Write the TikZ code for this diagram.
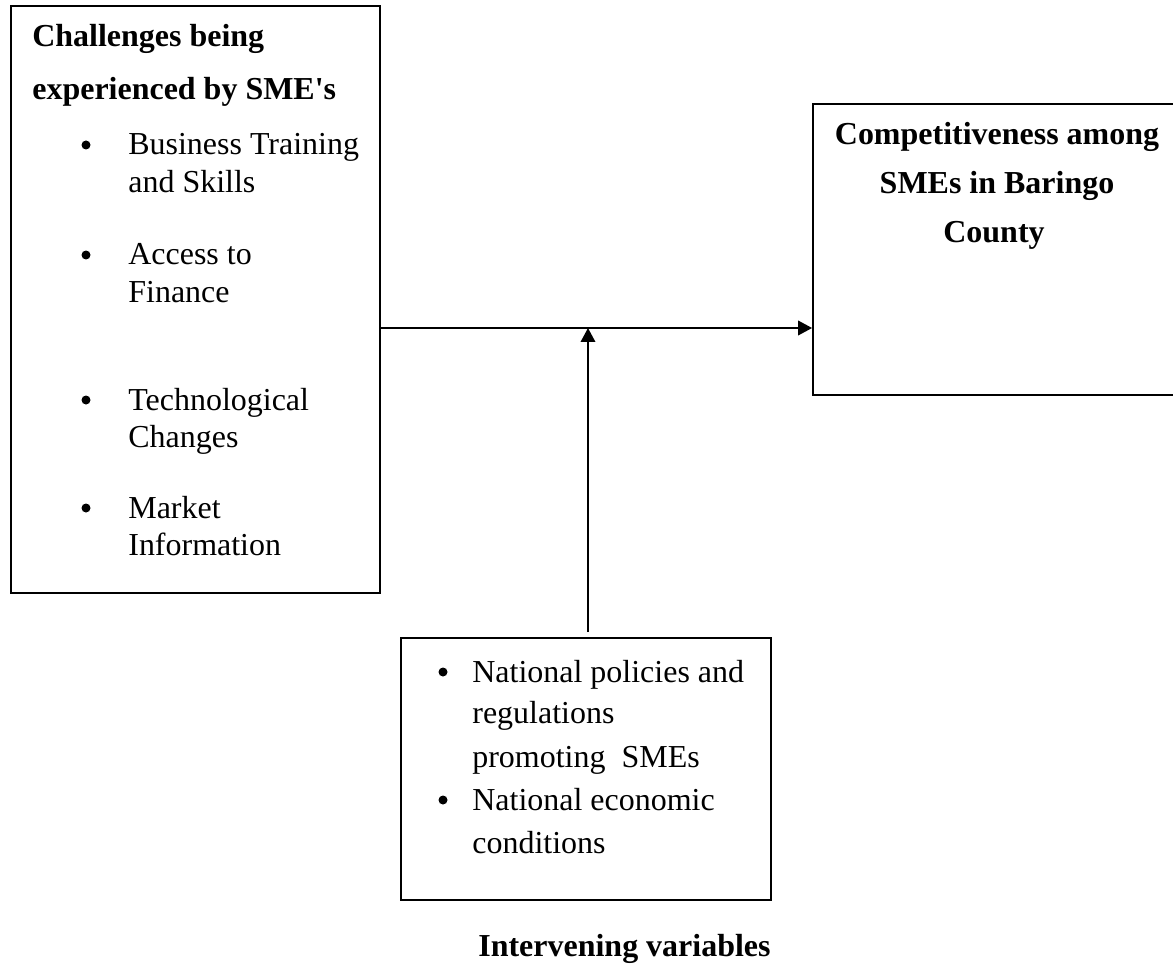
\documentclass[tikz,border=0pt]{standalone}
\usepackage{fontspec}
\setmainfont{Liberation Serif}
\usetikzlibrary{arrows.meta,fit}

\begin{document}
\begin{tikzpicture}[x=0.02cm,y=-0.02cm,
    box/.style={draw,line width=1pt,inner sep=0pt},
    txt/.style={anchor=base west,inner sep=0pt,font=\fontsize{18.2}{21}\selectfont},
    bold/.style={anchor=base,inner sep=0pt,font=\bfseries\fontsize{18.2}{21}\selectfont},
    dot/.style={circle,fill,inner sep=0pt,minimum size=0.18cm},
    arr/.style={-{Triangle[length=0.28cm,width=0.29cm]},line width=1.1pt}]
  \useasboundingbox (0,0) rectangle (1173,966);
  % the three boxes
  \node[box,fit={(11,6) (380,593)}] (chal) {};
  \node[box,fit={(813,104) (1190,395)}] (comp) {};
  \node[box,fit={(401,638) (771,900)}] (inter) {};
  % left box
  \node[bold,anchor=base west] (h1) at (32,47) {Challenges being};
  \node[bold,anchor=base west] (h2) at (32,100) {experienced by SME\textquotesingle s};
  \foreach \y in {155,265,410,518}
    {\node[dot] (b\y) at (86,\y-10) {};}
  \foreach \y/\t in {155/Business Training,193/and Skills,265/Access to,302/Finance,
                     410/Technological,447/Changes,518/Market,555/Information}
    {\node[txt] (l\y) at (128,\y) {\t};}
  % right box
  \node[bold] (c1) at (997,145) {Competitiveness among};
  \node[bold] (c2) at (997,194) {SMEs in Baringo};
  \node[bold] (c3) at (994,243) {County};
  % bottom box
  \foreach \y in {682,810}
    {\node[dot] (d\y) at (443,\y-10) {};}
  \foreach \y/\t in {682/National policies and,723/regulations,767/promoting~~SMEs,
                     810/National economic,853/conditions}
    {\node[txt] (n\y) at (472,\y) {\t};}
  \node[bold,anchor=base west] (iv) at (478,956) {Intervening variables};
  % connectors
  \coordinate (meet) at (588,328);
  \draw[arr] (chal.east |- meet) -- (comp.west |- meet);
  \draw[arr,shorten <=0.1cm] (inter.north -| meet) -- (meet);
\end{tikzpicture}
\end{document}
